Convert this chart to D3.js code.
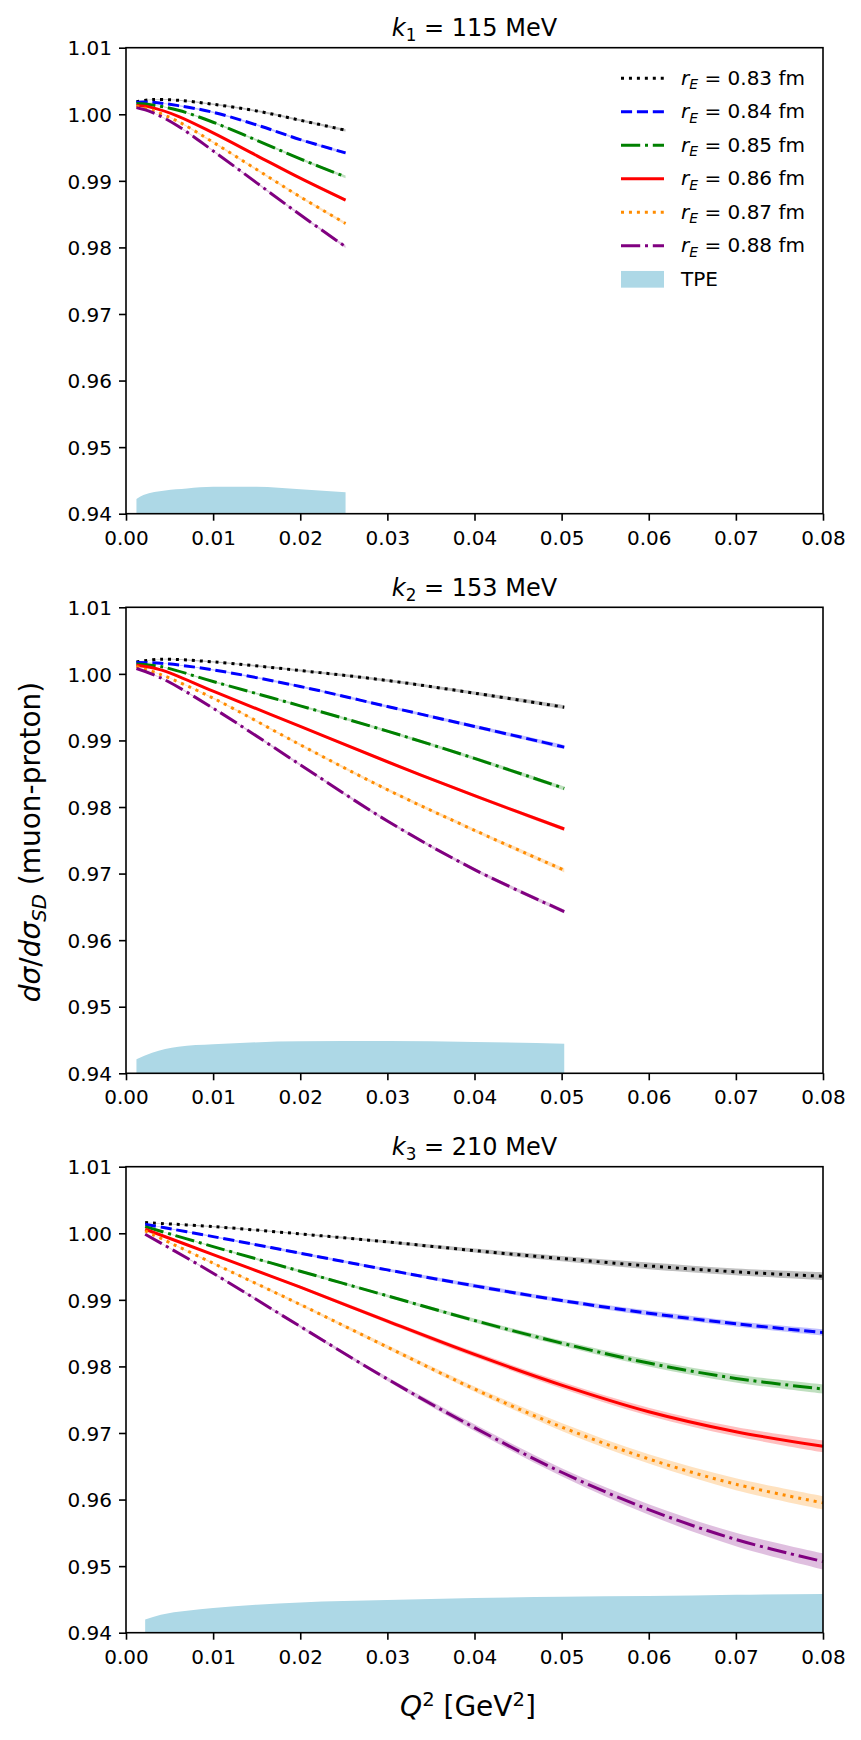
<!DOCTYPE html>
<html>
<head>
<meta charset="utf-8">
<script src="https://cdn.jsdelivr.net/npm/d3@7"></script>
<style>
  html, body { margin: 0; padding: 0; background: #fff; }
  svg { display: block; }
  text { font-family: "DejaVu Sans", sans-serif; fill: #000; }
</style>
</head>
<body>
<svg id="chart" width="861" height="1740"></svg>
<script>
// ---------------- DATA ----------------
const radii = ["0.83", "0.84", "0.85", "0.86", "0.87", "0.88"];
const colors = ["#000000", "#0000ff", "#008000", "#ff0000", "#ff8c00", "#800080"];
const styles = ["dotted", "dashed", "dashdot", "solid", "dotted", "dashdot"];
const xTicks = [0.00, 0.01, 0.02, 0.03, 0.04, 0.05, 0.06, 0.07, 0.08];
const yTicks = [0.94, 0.95, 0.96, 0.97, 0.98, 0.99, 1.00, 1.01];
const beamLabels = ["1", "2", "3"];
const beamMomenta = ["115", "153", "210"];

// Panel 1: k1 = 115 MeV
const q2_k1 = [0.0012, 0.003, 0.006, 0.01, 0.015, 0.02, 0.0252];
const k1_083 = [1.0019, 1.0022, 1.0021, 1.0015, 1.0005, 0.9991, 0.9976];
const k1_084 = [1.0018, 1.0018, 1.0013, 1.0003, 0.9984, 0.9962, 0.9942];
const k1_085 = [1.0016, 1.0014, 1.0006, 0.9988, 0.9961, 0.9933, 0.9906];
const k1_086 = [1.0013, 1.0010, 0.9997, 0.9972, 0.9938, 0.9904, 0.9871];
const k1_087 = [1.0012, 1.0006, 0.9989, 0.9958, 0.9917, 0.9876, 0.9836];
const k1_088 = [1.0010, 1.0003, 0.9982, 0.9945, 0.9897, 0.9849, 0.9801];
const k1_err = [0.00003, 0.00005, 0.00008, 0.0001, 0.00013, 0.00016, 0.0002];
const tpe_q2_k1 = [0.0012, 0.002, 0.0045, 0.007, 0.01, 0.015, 0.02, 0.0252];
const tpe_k1 = [0.9422, 0.9428, 0.9435, 0.9438, 0.94405, 0.94405, 0.94367, 0.94322];

// Panel 2: k2 = 153 MeV
const q2_k2 = [0.0012, 0.004, 0.01, 0.02, 0.03, 0.04, 0.0503];
const k2_083 = [1.0018, 1.0022, 1.0018, 1.0005, 0.9990, 0.9971, 0.9950];
const k2_084 = [1.0017, 1.0016, 1.0006, 0.9981, 0.9951, 0.9921, 0.9890];
const k2_085 = [1.0015, 1.0011, 0.99885, 0.9952, 0.9914, 0.9873, 0.9828];
const k2_086 = [1.0013, 1.0006, 0.9974, 0.9921, 0.9868, 0.9817, 0.9767];
const k2_087 = [1.0011, 0.9999, 0.99635, 0.98935, 0.9826, 0.9765, 0.9705];
const k2_088 = [1.0008, 0.9994, 0.99485, 0.98635, 0.9779, 0.9706, 0.9643];
const k2_err = [0.00003, 0.00005, 0.0001, 0.00015, 0.0002, 0.00025, 0.0003];
const tpe_q2_k2 = [0.0012, 0.003, 0.006, 0.01, 0.02, 0.03, 0.04, 0.0503];
const tpe_k2 = [0.9421, 0.9431, 0.9440, 0.94435, 0.9448, 0.94485, 0.9447, 0.94445];

// Panel 3: k3 = 210 MeV
const q2_k3 = [0.0022, 0.01, 0.02, 0.03, 0.04, 0.05, 0.06, 0.07, 0.08];
const k3_083 = [1.0016, 1.0010, 0.9999, 0.9987, 0.9974, 0.9962, 0.9951, 0.9942, 0.99355];
const k3_084 = [1.00135, 0.9995, 0.9970, 0.9945, 0.9921, 0.9899, 0.9880, 0.9864, 0.9851];
const k3_085 = [1.0010, 0.9980, 0.9943, 0.9906, 0.9869, 0.9835, 0.9805, 0.9782, 0.9766];
const k3_086 = [1.0006, 0.9968, 0.9919, 0.9868, 0.9818, 0.9772, 0.9732, 0.9702, 0.9680];
const k3_087 = [1.00035, 0.9955, 0.9893, 0.9829, 0.9766, 0.9709, 0.9661, 0.9623, 0.9595];
const k3_088 = [0.99985, 0.9940, 0.9860, 0.9781, 0.9708, 0.9641, 0.9585, 0.9540, 0.9507];
const k3_err_083 = [0.00003, 0.0001, 0.0001, 0.0002, 0.0003, 0.0004, 0.0005, 0.0005, 0.0006];
const k3_err_084 = [0.00003, 0.0001, 0.0002, 0.0002, 0.0003, 0.0003, 0.0004, 0.0004, 0.0005];
const k3_err_085 = [0.00003, 0.0001, 0.0002, 0.0002, 0.0003, 0.0004, 0.0005, 0.0006, 0.0007];
const k3_err_086 = [0.00003, 0.0001, 0.0002, 0.0003, 0.0004, 0.0005, 0.0006, 0.0007, 0.0009];
const k3_err_087 = [0.00003, 0.0001, 0.0002, 0.0003, 0.0004, 0.0006, 0.0007, 0.0009, 0.0010];
const k3_err_088 = [0.00003, 0.0001, 0.0002, 0.0003, 0.0005, 0.0006, 0.0008, 0.0010, 0.0012];
const tpe_q2_k3 = [0.0022, 0.004, 0.007, 0.01, 0.015, 0.02, 0.03, 0.04, 0.05, 0.06, 0.07, 0.08];
const tpe_k3 = [0.9420, 0.9427, 0.9433, 0.9437, 0.9442, 0.94455, 0.9449, 0.9452, 0.9454, 0.9455, 0.9457, 0.9458];

// ---------------- LAYOUT ----------------
const panelTops = [47.7, 607.3, 1166.7];
const plotLeft = 126, plotW = 697, plotH = 466;
const lw = 3;
const dashes = {
  solid: null,
  dotted: [1 * lw, 1.65 * lw],
  dashed: [3.7 * lw, 1.6 * lw],
  dashdot: [6.4 * lw, 1.6 * lw, 1 * lw, 1.6 * lw]
};

const panels = [
  { q: q2_k1, series: [k1_083, k1_084, k1_085, k1_086, k1_087, k1_088], errs: [k1_err, k1_err, k1_err, k1_err, k1_err, k1_err], tq: tpe_q2_k1, tv: tpe_k1 },
  { q: q2_k2, series: [k2_083, k2_084, k2_085, k2_086, k2_087, k2_088], errs: [k2_err, k2_err, k2_err, k2_err, k2_err, k2_err], tq: tpe_q2_k2, tv: tpe_k2 },
  { q: q2_k3, series: [k3_083, k3_084, k3_085, k3_086, k3_087, k3_088], errs: [k3_err_083, k3_err_084, k3_err_085, k3_err_086, k3_err_087, k3_err_088], tq: tpe_q2_k3, tv: tpe_k3 }
];

const svg = d3.select("#chart");
svg.append("rect").attr("width", 861).attr("height", 1740).attr("fill", "#fff");

const x = d3.scaleLinear().domain([0, 0.08]).range([0, plotW]);
const y = d3.scaleLinear().domain([0.94, 1.01]).range([plotH, 0]);
const smooth = d3.curveCatmullRom.alpha(0.5);

function mathText(sel, parts, size) {
  let shift = 0;
  parts.forEach(p => {
    const ts = sel.append("tspan").text(p.t);
    let target = 0, fs = size;
    if (p.sub) { target = size * 0.22; fs = size * 0.7; }
    if (p.sup) { target = -size * 0.36; fs = size * 0.7; }
    ts.attr("font-size", fs);
    if (p.it) ts.attr("font-style", "italic");
    const dy = target - shift;
    if (dy !== 0) ts.attr("dy", dy);
    shift = target;
  });
}

panels.forEach((p, pi) => {
  const g = svg.append("g").attr("transform", `translate(${plotLeft},${panelTops[pi]})`);

  // TPE area
  const tpeData = p.tq.map((q, i) => [q, p.tv[i]]);
  g.append("path")
    .datum(tpeData)
    .attr("fill", "#add8e6")
    .attr("d", d3.area().curve(d3.curveMonotoneX)
      .x(d => x(d[0])).y0(y(0.94)).y1(d => y(d[1])));

  // bands
  p.series.forEach((vals, si) => {
    const data = p.q.map((q, i) => [q, vals[i], p.errs[si][i]]);
    g.append("path").datum(data)
      .attr("fill", colors[si]).attr("fill-opacity", 0.25)
      .attr("d", d3.area().curve(smooth)
        .x(d => x(d[0])).y0(d => y(d[1] - d[2])).y1(d => y(d[1] + d[2])));
  });
  // lines
  p.series.forEach((vals, si) => {
    const data = p.q.map((q, i) => [q, vals[i]]);
    const path = g.append("path").datum(data)
      .attr("fill", "none").attr("stroke", colors[si]).attr("stroke-width", lw)
      .attr("stroke-linecap", "butt").attr("stroke-linejoin", "round")
      .attr("d", d3.line().curve(smooth).x(d => x(d[0])).y(d => y(d[1])));
    if (dashes[styles[si]]) path.attr("stroke-dasharray", dashes[styles[si]].join(","));
  });

  // axes
  const xAxis = d3.axisBottom(x).tickValues(xTicks).tickFormat(d3.format(".2f"))
    .tickSize(7).tickPadding(7).tickSizeOuter(0);
  const yAxis = d3.axisLeft(y).tickValues(yTicks).tickFormat(d3.format(".2f"))
    .tickSize(7).tickPadding(7).tickSizeOuter(0);
  const gx = g.append("g").attr("transform", `translate(0,${plotH})`).call(xAxis);
  const gy = g.append("g").call(yAxis);
  [gx, gy].forEach(a => {
    a.select(".domain").remove();
    a.selectAll(".tick line").attr("stroke", "#000").attr("stroke-width", 1.6);
    a.selectAll(".tick text").attr("font-size", 20).attr("font-family", "DejaVu Sans").attr("fill", "#000");
  });
  gx.selectAll(".tick text").attr("dy", "0.85em");
  gy.selectAll(".tick text").attr("dy", "0.36em");

  // frame
  g.append("rect").attr("width", plotW).attr("height", plotH)
    .attr("fill", "none").attr("stroke", "#000").attr("stroke-width", 1.6);

  // title
  const t = g.append("text").attr("x", plotW / 2).attr("y", -11.7)
    .attr("text-anchor", "middle").attr("font-size", 24);
  mathText(t, [{ t: "k", it: true }, { t: beamLabels[pi], sub: true }, { t: " = " + beamMomenta[pi] + " MeV" }], 24);

  // legend (first panel only)
  if (pi === 0) {
    const lg = g.append("g");
    const rowY0 = 78.3 - panelTops[0], rowStep = 33.5;
    const hx0 = 621 - plotLeft, hx1 = 664 - plotLeft, tx = 681 - plotLeft;
    radii.forEach((r, i) => {
      const cy = rowY0 + i * rowStep;
      const ln = lg.append("line").attr("x1", hx0).attr("x2", hx1).attr("y1", cy).attr("y2", cy)
        .attr("stroke", colors[i]).attr("stroke-width", lw).attr("stroke-linecap", "butt");
      if (dashes[styles[i]]) ln.attr("stroke-dasharray", dashes[styles[i]].join(","));
      const tt = lg.append("text").attr("x", tx).attr("y", cy + 6.7).attr("font-size", 20);
      mathText(tt, [{ t: "r", it: true }, { t: "E", it: true, sub: true }, { t: " = " + r + " fm" }], 20);
    });
    const cyT = rowY0 + 6 * rowStep;
    lg.append("rect").attr("x", hx0).attr("y", cyT - 8.35).attr("width", hx1 - hx0).attr("height", 16.7)
      .attr("fill", "#add8e6");
    lg.append("text").attr("x", tx).attr("y", cyT + 6.7).attr("font-size", 20).text("TPE");
  }
});

// y label
const yl = svg.append("text").attr("transform", "translate(40,842) rotate(-90)")
  .attr("text-anchor", "middle").attr("font-size", 28);
mathText(yl, [{ t: "d", it: true }, { t: "σ", it: true }, { t: "/" }, { t: "d", it: true }, { t: "σ", it: true },
  { t: "SD", it: true, sub: true }, { t: " (muon-proton)" }], 28);

// x label
const xl = svg.append("text").attr("x", 468).attr("y", 1716).attr("text-anchor", "middle").attr("font-size", 28);
mathText(xl, [{ t: "Q", it: true }, { t: "2", sup: true }, { t: " [GeV" }, { t: "2", sup: true }, { t: "]" }], 28);
</script>
</body>
</html>
